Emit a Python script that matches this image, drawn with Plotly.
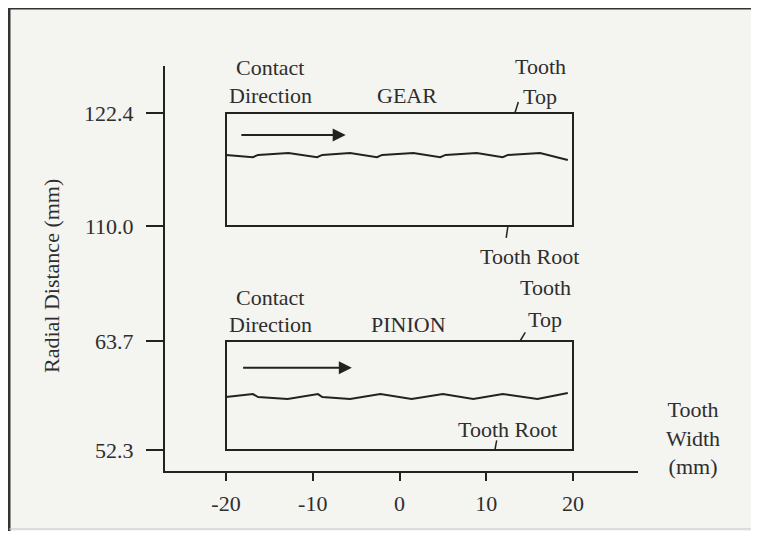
import plotly.graph_objects as go

# ---------------- data ----------------
x_ticks = [-20, -10, 0, 10, 20]
gear_ticks = [110.0, 122.4]
pinion_ticks = [52.3, 63.7]

tooth_width = [-20.0, 20.0]        # box extent (mm)
gear_root_top = [110.0, 122.4]     # gear tooth root / top radius
pinion_root_top = [52.3, 63.7]     # pinion tooth root / top radius

gear_x = [-20.0, -16.9, -16.3, -12.8, -9.5, -8.9, -5.7, -2.6, -2.0, 1.6, 4.7, 5.3, 8.9, 11.9, 12.5, 16.2, 19.4]
gear_y = [117.8, 117.55, 117.8, 118.0, 117.55, 117.8, 118.0, 117.55, 117.8, 118.0, 117.55, 117.8, 118.0, 117.55, 117.8, 118.0, 117.25]

pin_x = [-20.0, -16.9, -16.3, -12.9, -9.4, -8.9, -5.7, -2.2, 1.4, 5.0, 8.5, 11.9, 15.9, 19.4]
pin_y = [57.84, 58.15, 57.84, 57.63, 58.15, 57.84, 57.63, 58.15, 57.63, 58.15, 57.63, 58.15, 57.63, 58.26]

gear_arrow_x = [-18.4, -6.2]
gear_arrow_y = 120.0
pin_arrow_x = [-18.2, -5.5]
pin_arrow_y = 60.9

# ---------------- style ----------------
PAGE_W, PAGE_H = 759, 539
OFF = 8                     # browser body margin
W, H = PAGE_W - 2 * OFF, PAGE_H - 2 * OFF
L, R, T, B = 165, 638, 66, 471   # plot area in page pixels
BG = "#f4f4f1"
INK = "#222222"
TXT = "#2e2e2e"
FONT = "Liberation Serif"
FS = 22
split = (B - 283) / (B - T)

def px(xp):
    return (xp - L) / (R - L)

def py(yp):
    return (B - yp) / (B - T)

fig = go.Figure()

fig.add_trace(go.Scatter(x=gear_x, y=gear_y, mode="lines", xaxis="x", yaxis="y2",
                         line=dict(color=INK, width=2), showlegend=False, hoverinfo="skip"))
fig.add_trace(go.Scatter(x=pin_x, y=pin_y, mode="lines", xaxis="x", yaxis="y",
                         line=dict(color=INK, width=2), showlegend=False, hoverinfo="skip"))

shapes = [
    dict(type="rect", xref="x", yref="y2", x0=tooth_width[0], x1=tooth_width[1],
         y0=gear_root_top[0], y1=gear_root_top[1], line=dict(color=INK, width=2)),
    dict(type="rect", xref="x", yref="y", x0=tooth_width[0], x1=tooth_width[1],
         y0=pinion_root_top[0], y1=pinion_root_top[1], line=dict(color=INK, width=2)),
    # leader lines
    dict(type="line", xref="x", yref="y2", x0=13.3, y0=122.4, x1=13.7, y1=123.6, line=dict(color=INK, width=1.5)),
    dict(type="line", xref="x", yref="y2", x0=12.5, y0=110.0, x1=12.3, y1=108.7, line=dict(color=INK, width=1.5)),
    dict(type="line", xref="x", yref="y", x0=13.9, y0=63.7, x1=14.5, y1=64.6, line=dict(color=INK, width=1.5)),
    dict(type="line", xref="x", yref="y", x0=11.0, y0=52.3, x1=11.2, y1=53.3, line=dict(color=INK, width=1.5)),
    # outer frame
    dict(type="line", xref="paper", yref="paper", x0=px(9), x1=px(PAGE_W - OFF), y0=py(8), y1=py(8), line=dict(color="#333333", width=3)),
    dict(type="line", xref="paper", yref="paper", x0=px(9), x1=px(9), y0=py(8), y1=py(PAGE_H - OFF), line=dict(color="#333333", width=3)),
    dict(type="line", xref="paper", yref="paper", x0=px(9), x1=px(PAGE_W - OFF), y0=py(529), y1=py(529), line=dict(color="#c4c4c4", width=1)),
]

def txt(x, y, s, yref="y2", xref="x"):
    return dict(x=x, y=y, xref=xref, yref=yref, text=s, showarrow=False,
                font=dict(family=FONT, size=FS, color=TXT), xanchor="center", yanchor="middle")

annotations = [
    txt(-14.9, 127.35, "Contact"),
    txt(-14.9, 124.27, "Direction"),
    txt(0.9, 124.27, "GEAR"),
    txt(16.3, 127.45, "Tooth"),
    txt(16.2, 124.16, "Top"),
    txt(15.0, 106.7, "Tooth Root"),
    txt(-14.9, 68.3, "Contact", "y"),
    txt(-14.9, 65.4, "Direction", "y"),
    txt(1.0, 65.4, "PINION", "y"),
    txt(16.8, 69.25, "Tooth", "y"),
    txt(16.8, 66.0, "Top", "y"),
    txt(12.5, 54.4, "Tooth Root", "y"),
    txt(px(693), py(438), "Tooth<br>Width<br>(mm)", "paper", "paper"),
    dict(x=px(51), y=py(276), xref="paper", yref="paper", text="Radial Distance (mm)",
         textangle=-90, showarrow=False, font=dict(family=FONT, size=FS, color=TXT),
         xanchor="center", yanchor="middle"),
    dict(x=gear_arrow_x[1], y=gear_arrow_y, ax=gear_arrow_x[0], ay=gear_arrow_y,
         xref="x", yref="y2", axref="x", ayref="y2", text="", showarrow=True,
         arrowhead=2, arrowsize=1.3, arrowwidth=2, arrowcolor=INK),
    dict(x=pin_arrow_x[1], y=pin_arrow_y, ax=pin_arrow_x[0], ay=pin_arrow_y,
         xref="x", yref="y", axref="x", ayref="y", text="", showarrow=True,
         arrowhead=2, arrowsize=1.3, arrowwidth=2, arrowcolor=INK),
]

axis_font = dict(family=FONT, size=FS, color=TXT)
x_lo = -20 - (226 - L) / 8.675
x_hi = 20 + (R - 573) / 8.675

fig.update_layout(
    width=W, height=H, autosize=False,
    margin=dict(l=L - OFF, r=PAGE_W - OFF - R, t=T - OFF, b=PAGE_H - OFF - B, pad=0),
    paper_bgcolor=BG, plot_bgcolor=BG,
    shapes=shapes, annotations=annotations,
    xaxis=dict(range=[x_lo, x_hi], tickvals=x_ticks, ticktext=[str(v) for v in x_ticks],
               ticks="outside", ticklen=8, tickwidth=2, tickcolor=INK,
               showline=True, linewidth=2, linecolor=INK, showgrid=False, zeroline=False,
               tickfont=axis_font, anchor="y", ticklabelstandoff=4),
    yaxis=dict(domain=[0, split], range=[52.3 - (B - 450) / 9.56, 63.7 + (341 - 283) / 9.56],
               tickvals=pinion_ticks, ticktext=["%.1f" % v for v in pinion_ticks],
               ticks="outside", ticklen=17, tickwidth=2, tickcolor=INK,
               showline=True, linewidth=2, linecolor=INK, showgrid=False, zeroline=False,
               tickfont=axis_font, anchor="x", ticklabelstandoff=8),
    yaxis2=dict(domain=[split, 1], range=[110.0 - (283 - 226) / 9.11, 122.4 + (113 - T) / 9.11],
                tickvals=gear_ticks, ticktext=["%.1f" % v for v in gear_ticks],
                ticks="outside", ticklen=17, tickwidth=2, tickcolor=INK,
                showline=True, linewidth=2, linecolor=INK, showgrid=False, zeroline=False,
                tickfont=axis_font, anchor="x", ticklabelstandoff=8),
)

fig.write_html("out.html")
